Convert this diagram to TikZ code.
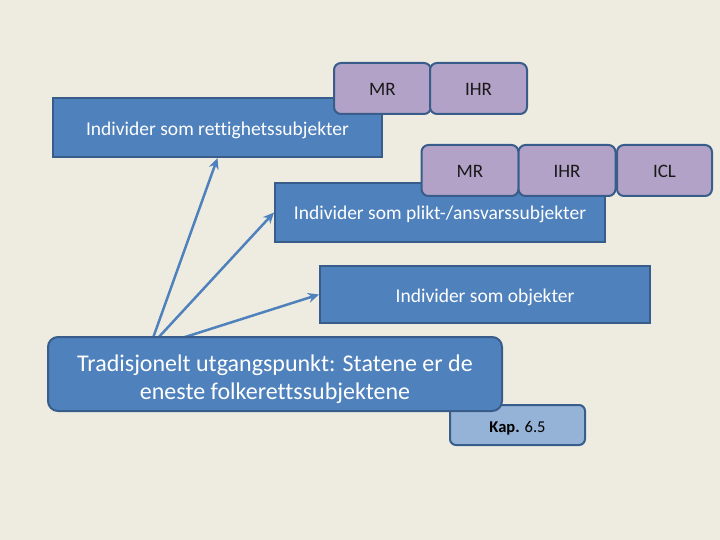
\documentclass[tikz,border=0pt]{standalone}
\usepackage{fontspec}
\usetikzlibrary{arrows.meta}
\setmainfont{Carlito}[Ligatures=CommonOff]
\definecolor{bakgrunn}{HTML}{EEECE1}
\definecolor{blaa}{HTML}{4F81BD}
\definecolor{moerkblaa}{HTML}{385D8A}
\definecolor{lilla}{HTML}{B3A2C7}
\definecolor{lysblaa}{HTML}{95B3D7}
\newcommand{\senk}[2]{\raisebox{-#1}[\height][\depth]{#2}}
\tikzset{
  blaboks/.style={draw=moerkblaa, fill=blaa, line width=2pt, text=white,
    font=\fontsize{19.5}{23}\selectfont, inner sep=0pt},
  lillaboks/.style={draw=moerkblaa, fill=lilla, line width=2pt, rounded corners=7pt,
    minimum width=97pt, minimum height=51pt, inner sep=0pt,
    font=\fontsize{19}{23}\selectfont, text=black!90},
  pil/.style={->, draw=blaa, line width=2.5pt}
}

\begin{document}
\begin{tikzpicture}[>={Stealth[length=11pt,width=10pt]}, x=1pt, y=-1pt]
  \fill[bakgrunn] (0,0) rectangle (720,540);
  \useasboundingbox (0,0) rectangle (720,540);

  % rettighetssubjekter
  \node[blaboks, minimum width=329pt, minimum height=59pt] (rett) at (217.5,127.5)
        {\senk{3pt}{Individer som rettighetssubjekter}};
  \node[lillaboks] (mr1) at (382.5,88.5) {\senk{1pt}{MR}};
  \node[lillaboks] (ihr1) at (478.5,88.5) {\senk{1pt}{IHR}};

  % plikt-/ansvarssubjekter
  \node[blaboks, minimum width=330pt, minimum height=58pt] (plikt) at (440,212.5)
        {\senk{2pt}{Individer som plikt-/ansvarssubjekter}};
  \node[lillaboks] (mr2) at (470,170.5) {\senk{1pt}{MR}};
  \node[lillaboks] (ihr2) at (567,170.5) {\senk{1pt}{IHR}};
  \node[lillaboks, minimum width=95pt] (icl) at (664.5,170.5) {\senk{1pt}{ICL}};

  % objekter
  \node[blaboks, minimum width=330pt, minimum height=57pt] (obj) at (485,294.5)
        {\senk{3pt}{Individer som objekter}};

  % piler
  \coordinate (s1) at (153,338);
  \coordinate (s2) at (158,338);
  \coordinate (s3) at (182,338);
  \draw[pil] (s1) -- (rett.south);
  \draw[pil] (s2) -- (plikt.west);
  \draw[pil] (s3) -- (obj.west);

  % kapittel
  \node[draw=moerkblaa, fill=lysblaa, line width=2pt, rounded corners=6pt,
        minimum width=135pt, minimum height=40pt, inner sep=0pt,
        font=\fontsize{16.5}{19}\selectfont] (kap) at (517.5,425)
        {\senk{3pt}{\textbf{Kap.} 6.5}};

  % tradisjonelt utgangspunkt
  \node[blaboks, rounded corners=10pt, minimum width=454pt, minimum height=74pt,
        font=\fontsize{24}{28.5}\selectfont] (trad) at (275,374)
        {\senk{5pt}{\parbox{450pt}{\centering
          Tradisjonelt utgangspunkt: Statene er de\\eneste folkerettssubjektene}}};
\end{tikzpicture}
\end{document}
